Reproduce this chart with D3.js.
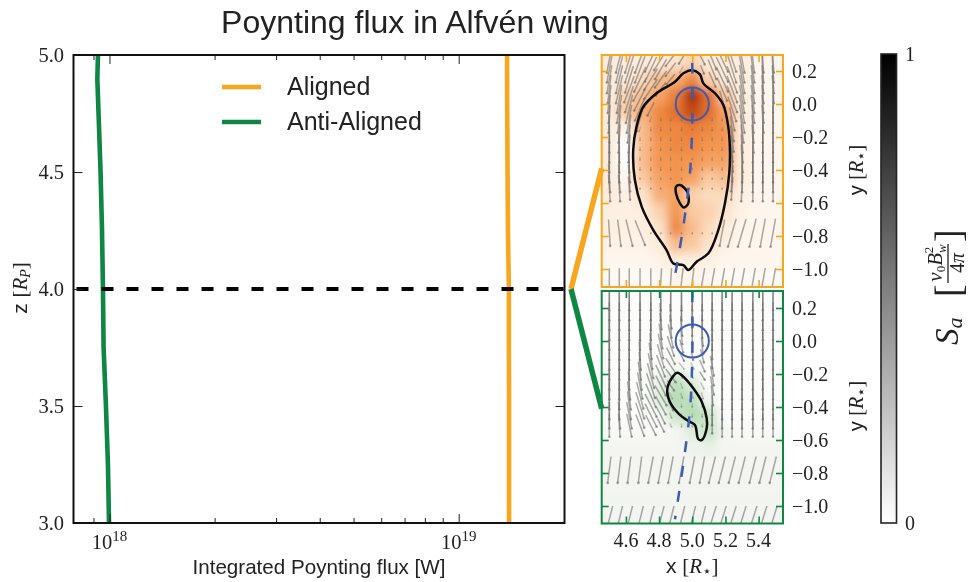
<!DOCTYPE html>
<html>
<head>
<meta charset="utf-8">
<title>Poynting flux in Alfven wing</title>
<script src="https://cdn.jsdelivr.net/npm/d3@7"></script>
<style>
html,body{margin:0;padding:0;background:#fff;}
svg{display:block;filter:blur(0.4px);}
text{font-family:"Liberation Serif",serif;fill:#222;}
.sans{font-family:"Liberation Sans",sans-serif;}
.star{font-family:"DejaVu Sans",sans-serif;}
.domain{display:none;}
</style>
</head>
<body>
<svg id="fig" width="970" height="582"></svg>
<script>
// left plot : integrated flux against height
var zValues = [5.0, 4.9, 4.7, 4.5, 4.25, 4.0, 3.75, 3.5, 3.25, 3.0];
var alignedFlux = [1.376e19, 1.376e19, 1.378e19, 1.380e19, 1.384e19, 1.392e19, 1.392e19, 1.394e19, 1.394e19, 1.394e19];
var antiAlignedFlux = [9.27e17, 9.23e17, 9.33e17, 9.43e17, 9.52e17, 9.58e17, 9.62e17, 9.77e17, 9.90e17, 9.97e17];
var zTicks = [3.0, 3.5, 4.0, 4.5, 5.0];
var fluxMajor = [1e18, 1e19];
var fluxMinor = [9e17, 2e18, 3e18, 4e18, 5e18, 6e18, 7e18, 8e18, 9e18];
var legendNames = ["Aligned", "Anti-Aligned"];

// insets : ticks
var insetXTicks = [4.6, 4.8, 5.0, 5.2, 5.4];
var insetYTicks = [0.2, 0.0, -0.2, -0.4, -0.6, -0.8, -1.0];

// quiver grid, displacement in 0.01 R*, V is downward
var quiverX = [4.50,4.56,4.62,4.685,4.75,4.81,4.87,4.935,5.00,5.06,5.12,5.18,5.24,5.30,5.365,5.425,5.487];
var quiverY = [0.27,0.21,0.15,0.09,0.03,-0.03,-0.09,-0.15,-0.21,-0.27,-0.33,-0.39,-0.45,-0.51,-0.78,-1.08];
var orangeU = [
	[-3,-4,-5,-6,-7,-8,-6,-3,0,3,5,7,5,3,2,1,1],
	[-3,-4,-5,-6,-7,-7,-6,-2,0,2,5,7,5,3,2,1,1],
	[-3,-4,-5,-7,-8,-7,-5,0,0,0,4,7,6,3,2,1,1],
	[-2,-4,-6,-8,-8,-6,0,0,0,0,0,6,6,3,2,1,1],
	[-2,-3,-5,-7,-8,0,0,0,0,0,0,3,6,3,2,1,0],
	[-1,-3,-4,-6,-4,0,0,0,0,0,0,0,5,3,2,1,0],
	[-1,-2,-3,-4,-1,0,0,0,0,0,0,0,3,3,1,1,0],
	[0,-1,-2,-1,0,0,0,0,0,0,0,0,2,2,1,0,0],
	[0,-1,-1,0,0,0,0,0,0,0,0,0,2,1,1,0,0],
	[0,0,-1,0,0,0,0,0,0,0,0,0,1,1,0,0,0],
	[0,0,0,0,0,0,0,0,0,0,0,0,1,1,0,0,0],
	[0,0,1,0,0,0,0,0,0,0,0,0,0,0,0,0,0],
	[1,1,1,0,0,0,0,0,0,0,0,0,-1,0,0,0,0],
	[1,1,1,0,0,0,0,0,0,0,0,0,-1,-1,0,0,0],
	[1,2,4,6,0,0,0,0,0,0,0,-3,-5,-5,-4,-3,-3],
	[0,0,0,0,0,-1,-1,-2,-2,-3,-3,-3,-3,-3,-3,-3,-3]
];
var orangeV = [
	[16,16,16,16,15,13,8,5,0,6,12,15,15,16,16,16,16],
	[16,16,16,16,15,12,8,4,0,5,12,15,16,16,16,16,16],
	[17,17,16,15,13,10,6,0,0,0,9,15,16,17,17,17,17],
	[17,17,16,14,12,8,0,0,0,0,0,14,16,17,17,17,17],
	[17,17,16,14,10,0,0,0,0,0,0,10,16,17,17,17,17],
	[17,17,17,14,8,0,0,0,0,0,0,0,15,17,17,17,17],
	[17,17,17,15,3,2,2,2,0,0,2,2,14,17,17,17,17],
	[17,17,17,3,2,2,2,2,1,2,2,2,15,17,17,17,17],
	[17,17,17,2,2,2,2,2,1,2,2,2,16,17,17,17,17],
	[17,17,17,2,2,2,2,2,1,2,2,2,16,17,17,17,17],
	[17,17,17,2,2,2,2,2,1,2,2,2,16,17,17,17,17],
	[17,17,17,2,2,2,2,2,1,2,2,2,16,17,17,17,17],
	[17,17,16,1,1,1,1,1,0,1,1,1,16,17,17,17,17],
	[16,16,14,1,1,1,0,0,0,1,1,1,14,16,16,16,16],
	[16,16,16,15,1,1,1,1,1,1,1,16,17,17,17,17,17],
	[17,17,17,17,17,17,17,17,17,17,17,17,17,17,17,17,17]
];
var greenU = [
	[0,0,0,0,0,0,0,0,0,0,0,0,0,0,0,0,0],
	[0,0,0,0,0,0,0,0,0,0,0,0,0,0,0,0,0],
	[0,0,0,0,0,1,1,0,0,0,0,0,0,0,0,0,0],
	[0,0,0,0,0,1,1,1,0,0,0,0,0,0,0,0,0],
	[0,0,0,0,0,2,3,1,0,1,0,0,0,0,0,0,0],
	[0,0,0,0,1,3,4,2,0,1,0,0,0,0,0,0,0],
	[0,0,0,1,2,4,5,3,1,2,0,0,0,0,0,0,0],
	[0,0,0,1,3,5,6,3,2,3,2,0,0,0,0,0,0],
	[0,0,0,2,4,6,6,1,1,3,2,0,0,0,0,0,0],
	[0,0,1,3,5,6,4,1,1,2,2,0,0,0,0,0,0],
	[0,0,2,4,6,7,2,1,1,1,1,0,0,0,0,0,0],
	[0,0,2,5,7,6,3,0,0,0,0,0,0,0,0,0,0],
	[0,1,3,5,7,5,1,0,0,0,0,0,0,0,0,0,0],
	[0,1,3,5,6,4,1,0,0,0,0,0,0,0,0,0,0],
	[-2,-2,-2,-2,-3,-3,-3,-3,-3,-3,-4,-4,-4,-4,-4,-4,-4],
	[-4,-4,-4,-4,-4,-4,-4,-4,-4,-4,-5,-5,-5,-5,-5,-5,-5]
];
var greenV = [
	[17,17,17,17,17,17,17,17,17,17,17,17,17,17,17,17,17],
	[17,17,17,17,17,17,17,17,17,17,17,17,17,17,17,17,17],
	[17,17,17,17,17,16,15,14,14,15,17,17,17,17,17,17,17],
	[17,17,17,17,17,16,14,12,12,14,17,17,17,17,17,17,17],
	[17,17,17,17,16,15,14,10,10,12,17,17,17,17,17,17,17],
	[17,17,17,17,16,15,12,8,7,10,16,17,17,17,17,17,17],
	[17,17,17,17,16,14,10,6,5,8,15,17,17,17,17,17,17],
	[17,17,17,17,15,13,9,4,4,7,12,17,17,17,17,17,17],
	[17,17,17,17,15,13,8,3,3,5,12,17,17,17,17,17,17],
	[17,17,17,16,15,12,6,3,3,4,11,17,17,17,17,17,17],
	[17,17,17,16,14,12,4,3,3,4,12,17,17,17,17,17,17],
	[17,17,17,16,14,11,6,2,2,2,12,17,17,17,17,17,17],
	[16,16,16,15,14,10,3,2,2,2,12,16,16,16,16,16,16],
	[14,14,14,13,12,8,2,2,2,2,10,14,14,14,14,14,14],
	[16,16,16,16,16,16,16,16,16,16,16,16,16,16,16,16,16],
	[16,16,16,16,16,16,16,16,16,16,16,16,16,16,16,16,16]
];

// heat cells, centres of a 0.1 R* grid, level 0..10
var heatX = [4.5,4.6,4.7,4.8,4.9,5.0,5.1,5.2,5.3,5.4,5.5];
var heatY = [0.25,0.15,0.05,-0.05,-0.15,-0.25,-0.35,-0.45,-0.55,-0.65,-0.75,-0.85,-0.95,-1.05];
var orangeHeat = [
	[1,1,1,1,1.5,2.5,1,1,1,.5,.5],
	[1,1,2,3.5,4,5.5,2.5,1,1,.5,.5],
	[1,2.5,3.5,4.5,6,9,6.5,3,1,.5,.5],
	[1,3,4,5.5,6.5,8,6.5,4.5,1,.5,.5],
	[1,.5,3.5,5.5,5.5,6,5.5,5,1,.5,.5],
	[1,0,3.5,5,5.5,5.5,5,5,1,.5,.5],
	[1,0,3.5,5,5,5,4.5,4.5,1,.5,.5],
	[1,.5,3,4.5,5,4.5,3,3.5,1,.5,.5],
	[1,.8,1.5,4,4.5,2.5,2,2,.8,.5,.5],
	[.8,.8,1,2.5,5,3,2.5,1.5,.7,.5,.5],
	[.8,.8,.8,1.5,5.5,3.5,2,1,.5,.5,.5],
	[.7,.7,.7,1,3.5,3,1.5,.8,.5,.5,.5],
	[.5,.5,.5,.7,1,1,.8,.5,.5,.5,.5],
	[.3,.3,.3,.3,.5,.5,.4,.3,.3,.3,.3]
];
var greenHeat = [
	[0,0,0,0,0,0,0,0,0,0,0],
	[0,0,0,0,0,0,0,0,0,0,0],
	[0,0,0,0,0,0,0,0,0,0,0],
	[0,0,0,0,0,0,0,0,0,0,0],
	[0,0,0,0,.5,.5,0,0,0,0,0],
	[0,0,0,2,6,3,0,0,0,0,0],
	[0,0,0,3,7,6,1,0,0,0,0],
	[0,0,0,.5,5,7,5,0,0,0,0],
	[.5,.5,.5,.5,1,3,5,1,.5,.5,.5],
	[1,1,1,1,1,1.5,2,1,1,1,1],
	[1,1,1,1,1,1,1,1,1,1,1],
	[1,1,1,1,1,1,1,1,1,1,1],
	[1.2,1.2,1.2,1.2,1.2,1.2,1.2,1.2,1.2,1.2,1.2],
	[1,1,1,1,1,1,1,1,1,1,1]
];
var orangeLevels = [0,1,3,5,7,9];
var orangeRamp = ["#ffffff","#fdecdb","#f9c9a0","#f3954f","#dc6420","#ab3312"];
var greenLevels = [0,1,10];
var greenRamp = ["#fcfdfb","#f4f5f1","#96cf96"];

// contours, read in data coordinates
var orangeContour = [[4.996,.205],[5.046,.18],[5.067,.125],[5.137,.065],[5.187,-.006],[5.217,-.137],[5.227,-.279],[5.223,-.42],[5.197,-.602],[5.157,-.764],[5.097,-.905],[5.026,-.956],[4.976,-1.006],[4.946,-.976],[4.886,-.966],[4.845,-.885],[4.765,-.764],[4.695,-.622],[4.654,-.461],[4.644,-.279],[4.664,-.137],[4.705,-.016],[4.785,.065],[4.896,.135],[4.946,.186]];
var orangeHole = [[4.902,-.501],[4.926,-.491],[4.97,-.532],[4.976,-.602],[4.95,-.628],[4.926,-.602],[4.902,-.541]];
var greenContour = [[4.91,-.192],[4.956,-.226],[5.006,-.287],[5.057,-.368],[5.087,-.469],[5.087,-.529],[5.057,-.6],[5.036,-.594],[5.016,-.509],[4.976,-.485],[4.916,-.438],[4.865,-.368],[4.849,-.297],[4.876,-.226]];
// planet track and star circle
var orangeTrack = [[5.0,.25],[5.0,-.1],[4.986,-.42],[4.946,-.743],[4.896,-1.04]];
var greenTrack = [[5.0,.3],[5.0,-.1],[4.986,-.42],[4.946,-.743],[4.896,-1.08]];
var circleCenter = [5.0, 0.0];
var circleRadius = 0.1;

var colorbarStops = [0, 0.25, 0.5, 0.75, 1];
var colorbarTicks = [0, 1];

var ORANGE = "#f9a61f", GREEN = "#0e8644", BLUE = "#3b5bb5";

var svg = d3.select("#fig");
var defs = svg.append("defs");

// ------- left plot
var L = {x0:73.5, x1:564.5, y0:55, y1:523};
var fluxScale = d3.scaleLog().domain([Math.pow(10,17.897), Math.pow(10,19.303)]).range([L.x0, L.x1]);
var zScale = d3.scaleLinear().domain([3,5]).range([L.y1, L.y0]);

function styleTicks(g, color, w){
	g.selectAll(".domain").remove();
	g.selectAll("line").attr("stroke", color).attr("stroke-width", w);
	g.selectAll("text").remove();
}
function drawLeft(){
	var g = svg.append("g");
	var lineFn = d3.line().x(function(d){return fluxScale(d[0]);}).y(function(d){return zScale(d[1]);});
	g.append("path").attr("d", lineFn(d3.zip(alignedFlux, zValues))).attr("fill","none").attr("stroke",ORANGE).attr("stroke-width",4.6);
	g.append("path").attr("d", lineFn(d3.zip(antiAlignedFlux, zValues))).attr("fill","none").attr("stroke",GREEN).attr("stroke-width",4.6);
	g.append("line").attr("x1",L.x0).attr("x2",L.x1).attr("y1",zScale(4)).attr("y2",zScale(4))
		.attr("stroke","#000").attr("stroke-width",4).attr("stroke-dasharray","12 13").attr("stroke-dashoffset",22);

	[[d3.axisBottom, L.y1, -1],[d3.axisTop, L.y0, -1]].forEach(function(a){
		var major = a[0](fluxScale).tickValues(fluxMajor).tickSize(a[2]*9).tickFormat("");
		var minor = a[0](fluxScale).tickValues(fluxMinor).tickSize(a[2]*5).tickFormat("");
		styleTicks(g.append("g").attr("transform","translate(0,"+a[1]+")").call(major), "#222", 1);
		styleTicks(g.append("g").attr("transform","translate(0,"+a[1]+")").call(minor), "#222", 1);
	});
	[[d3.axisLeft, L.x0],[d3.axisRight, L.x1]].forEach(function(a){
		var ax = a[0](zScale).tickValues(zTicks).tickSize(-9).tickFormat("");
		styleTicks(g.append("g").attr("transform","translate("+a[1]+",0)").call(ax), "#222", 1);
	});
	g.append("rect").attr("x",L.x0).attr("y",L.y0).attr("width",L.x1-L.x0).attr("height",L.y1-L.y0)
		.attr("fill","none").attr("stroke","#111").attr("stroke-width",2);

	g.selectAll(".zlab").data(zTicks).enter().append("text").attr("class","zlab")
		.attr("x",64).attr("y",function(d){return zScale(d)+7;}).attr("text-anchor","end").attr("font-size",20.5)
		.text(function(d){return d.toFixed(1);});
	fluxMajor.forEach(function(v){
		var t = g.append("text").attr("x",fluxScale(v)).attr("y",549).attr("text-anchor","middle").attr("font-size",20.5);
		t.append("tspan").text("10");
		t.append("tspan").attr("dy",-8).attr("font-size",15).text(String(Math.round(Math.log10(v))));
	});
	g.append("text").attr("class","sans").attr("x",319).attr("y",574).attr("text-anchor","middle").attr("font-size",20.6).text("Integrated Poynting flux [W]");
	var yl = g.append("text").attr("transform","translate(27,288) rotate(-90)").attr("text-anchor","middle").attr("font-size",21);
	yl.append("tspan").attr("class","sans").text("z ");
	yl.append("tspan").text("[");
	yl.append("tspan").attr("font-style","italic").text("R");
	yl.append("tspan").attr("font-style","italic").attr("font-size",14).attr("dy",3).text("P");
	yl.append("tspan").attr("dy",-3).text("]");

	// legend
	var legendColors = [ORANGE, GREEN];
	legendNames.forEach(function(n,i){
		var y = 87 + i*35;
		g.append("line").attr("x1",222).attr("x2",261).attr("y1",y).attr("y2",y).attr("stroke",legendColors[i]).attr("stroke-width",4.6);
		g.append("text").attr("class","sans").attr("x",287).attr("y",y+8).attr("font-size",25).text(n);
	});
	svg.append("text").attr("class","sans").attr("x",415).attr("y",33).attr("text-anchor","middle").attr("font-size",32).text("Poynting flux in Alfv\u00e9n wing");
}

// R-star label shared by both insets
function appendRStar(t){
	t.append("tspan").text("[");
	t.append("tspan").attr("font-style","italic").text("R");
	t.append("tspan").attr("class","star").attr("font-size",15).attr("dy",3).text("\u22c6");
	t.append("tspan").attr("dy",-3).text("]");
}

// ------- inset panels
function drawInset(opt){
	var x = d3.scaleLinear().domain([4.454,5.547]).range([601.7,783]);
	var y = d3.scaleLinear().domain([0,-1]).range([opt.y0Px, opt.y0Px+165]);
	var top = opt.top, bot = opt.bottom;
	var g = svg.append("g");
	var clipId = "clip-"+opt.name, blurId = "blur-"+opt.name;
	defs.append("clipPath").attr("id",clipId).append("rect").attr("x",601.7).attr("y",top).attr("width",181.3).attr("height",bot-top);
	defs.append("filter").attr("id",blurId).attr("filterUnits","userSpaceOnUse").attr("x",560).attr("y",top-50).attr("width",270).attr("height",bot-top+100)
		.append("feGaussianBlur").attr("stdDeviation",5);
	var body = g.append("g").attr("clip-path","url(#"+clipId+")");
	var color = d3.scaleLinear().domain(opt.levels).range(opt.ramp);
	var cells = body.append("g").attr("filter","url(#"+blurId+")");
	opt.heat.forEach(function(row,r){
		row.forEach(function(v,c){
			// edge cells run on past the frame so the blur does not fade there
			var xa = x(heatX[c]-0.05) - (c===0?40:0), xb = x(heatX[c]+0.05) + (c===row.length-1?40:0);
			var ya = y(heatY[r]+0.05) - (r===0?40:0), yb = y(heatY[r]-0.05) + (r===opt.heat.length-1?40:0);
			cells.append("rect").attr("x",xa).attr("y",ya).attr("width",xb-xa+0.5).attr("height",yb-ya+0.5).attr("fill",color(v));
		});
	});
	// quiver, the tiny arrows inside the wing are fainter
	var qg = body.append("g");
	quiverY.forEach(function(qy,r){
		quiverX.forEach(function(qx,c){
			var u = opt.u[r][c]/100, v = opt.v[r][c]/100;
			if (u===0 && v===0) return;
			var tiny = v<0.05;
			var x1 = x(qx-u/2), y1 = y(qy+v/2), x2 = x(qx+u/2), y2 = y(qy-v/2);
			qg.append("line").attr("x1",x1).attr("y1",y1).attr("x2",x2).attr("y2",y2)
				.attr("stroke","#6f6f6f").attr("stroke-opacity",tiny?0.35:0.6).attr("stroke-width",1.5);
			qg.append("circle").attr("cx",x2).attr("cy",y2).attr("r",tiny?0.9:1.3).attr("fill","#5e5e5e").attr("fill-opacity",tiny?0.4:0.55);
		});
	});
	var lineFn = d3.line().x(function(d){return x(d[0]);}).y(function(d){return y(d[1]);}).curve(d3.curveCatmullRomClosed.alpha(0.5));
	opt.contours.forEach(function(c){
		body.append("path").attr("d",lineFn(c)).attr("fill","none").attr("stroke","#0c0c0c").attr("stroke-width",2.5);
	});
	var trackFn = d3.line().x(function(d){return x(d[0]);}).y(function(d){return y(d[1]);}).curve(d3.curveCatmullRom);
	body.append("path").attr("d",trackFn(opt.track)).attr("fill","none").attr("stroke",BLUE).attr("stroke-width",2.5).attr("stroke-dasharray","11 14");
	body.append("circle").attr("cx",x(circleCenter[0])).attr("cy",y(circleCenter[1])).attr("r",x(circleCenter[0]+circleRadius)-x(circleCenter[0]))
		.attr("fill","none").attr("stroke",BLUE).attr("stroke-width",2);

	// ticks on all four sides in the panel colour
	var ax = [
		[d3.axisBottom(x).tickValues(insetXTicks), "translate(0,"+bot+")"],
		[d3.axisTop(x).tickValues(insetXTicks), "translate(0,"+top+")"],
		[d3.axisLeft(y).tickValues(insetYTicks), "translate(601.7,0)"],
		[d3.axisRight(y).tickValues(insetYTicks), "translate(783,0)"]
	];
	ax.forEach(function(a){
		styleTicks(g.append("g").attr("transform",a[1]).call(a[0].tickSize(-7).tickFormat("")), opt.color, 1.6);
	});
	g.append("rect").attr("x",601.7).attr("y",top).attr("width",181.3).attr("height",bot-top).attr("fill","none").attr("stroke",opt.color).attr("stroke-width",2);

	g.selectAll(".ylab").data(insetYTicks).enter().append("text").attr("class","ylab")
		.attr("x",792).attr("y",function(d){return y(d)+6.5;}).attr("font-size",20)
		.text(function(d){return (d<0?"\u2212":"")+Math.abs(d).toFixed(1);});
	var yl = g.append("text").attr("transform","translate(863,"+(top+115)+") rotate(-90)").attr("text-anchor","middle").attr("font-size",20);
	yl.append("tspan").attr("class","sans").text("y ");
	appendRStar(yl);
	if (opt.showX){
		g.selectAll(".xlab").data(insetXTicks).enter().append("text").attr("class","xlab")
			.attr("x",function(d){return x(d);}).attr("y",547).attr("text-anchor","middle").attr("font-size",20)
			.text(function(d){return d.toFixed(1);});
		var xl = g.append("text").attr("x",x(5)).attr("y",573).attr("text-anchor","middle").attr("font-size",21);
		xl.append("tspan").attr("class","sans").text("x ");
		appendRStar(xl);
	}
	return {x:x, y:y};
}

function drawConnector(panel, yValue, color){
	svg.append("line").attr("x1",571).attr("y1",zScale(4))
		.attr("x2",panel.x(4.454)).attr("y2",panel.y(yValue))
		.attr("stroke",color).attr("stroke-width",5.5);
}

function drawColorbar(){
	var cbScale = d3.scaleLinear().domain([0,1]).range([523,54]);
	var shade = d3.scaleLinear().domain([0,1]).range(["#ffffff","#000000"]);
	var lg = defs.append("linearGradient").attr("id","cb").attr("x1",0).attr("y1",1).attr("x2",0).attr("y2",0);
	lg.selectAll("stop").data(colorbarStops).enter().append("stop")
		.attr("offset",function(d){return d;}).attr("stop-color",function(d){return shade(d);});
	svg.append("rect").attr("x",881).attr("y",cbScale(1)).attr("width",15.5).attr("height",cbScale(0)-cbScale(1))
		.attr("fill","url(#cb)").attr("stroke","#222").attr("stroke-width",1.6);
	svg.selectAll(".cbl").data(colorbarTicks).enter().append("text").attr("class","cbl")
		.attr("x",905).attr("y",function(d){return cbScale(d)+7;}).attr("font-size",20).text(function(d){return d;});

	var g = svg.append("g").attr("transform","translate(958,345) rotate(-90)");
	var s = g.append("text").attr("font-size",33).attr("font-style","italic");
	s.append("tspan").text("S");
	s.append("tspan").attr("font-size",22).attr("dy",4).text("a");
	g.append("text").attr("x",48).attr("y",3).attr("font-size",38).text("[");
	var num = g.append("text").attr("x",82).attr("y",-16).attr("text-anchor","middle").attr("font-size",21).attr("font-style","italic");
	num.append("tspan").text("v");
	num.append("tspan").attr("font-size",13).attr("dy",3).attr("font-style","normal").text("0");
	num.append("tspan").attr("dy",-3).text("B");
	num.append("tspan").attr("font-size",13).attr("dy",4).text("w");
	num.append("tspan").attr("font-size",13).attr("dy",-13).attr("dx",-9).attr("font-style","normal").text("2");
	g.append("line").attr("x1",62).attr("x2",101).attr("y1",-10).attr("y2",-10).attr("stroke","#222").attr("stroke-width",1.3);
	var den = g.append("text").attr("x",82).attr("y",6).attr("text-anchor","middle").attr("font-size",20);
	den.append("tspan").text("4");
	den.append("tspan").attr("font-style","italic").text("\u03c0");
	g.append("text").attr("x",103).attr("y",3).attr("font-size",38).text("]");
}

drawLeft();
var topPanel = drawInset({name:"aligned", color:ORANGE, top:55, bottom:287, y0Px:104, heat:orangeHeat, levels:orangeLevels, ramp:orangeRamp,
	u:orangeU, v:orangeV, contours:[orangeContour, orangeHole], track:orangeTrack, showX:false});
var botPanel = drawInset({name:"anti", color:GREEN, top:291, bottom:523.5, y0Px:341, heat:greenHeat, levels:greenLevels, ramp:greenRamp,
	u:greenU, v:greenV, contours:[greenContour], track:greenTrack, showX:true});
drawConnector(topPanel, -0.39, ORANGE);
drawConnector(botPanel, -0.41, GREEN);
drawColorbar();
</script>
</body>
</html>
